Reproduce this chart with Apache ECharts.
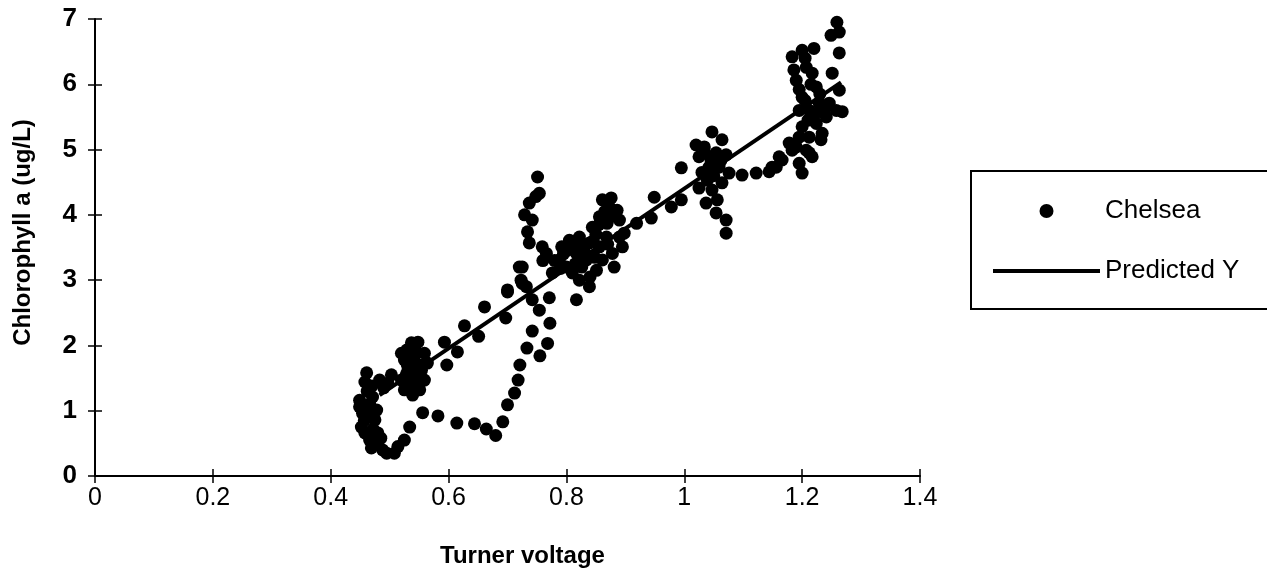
<!DOCTYPE html>
<html>
<head>
<meta charset="utf-8">
<script src="https://cdn.jsdelivr.net/npm/echarts@6/dist/echarts.min.js"></script>
<style>
html,body{margin:0;padding:0;background:#fff;}
#chart{width:1267px;height:577px;}
</style>
</head>
<body>
<div id="chart"></div>
<script>
// Observed points: [Turner voltage, Chlorophyll a (ug/L)]
const chelsea = [
  [0.461,1.58],[0.458,1.44],[0.483,1.47],[0.503,1.55],[0.449,1.06],[0.449,1.16],[0.454,0.96],[0.452,0.75],
  [0.458,0.66],[0.466,0.55],[0.469,0.43],[0.475,0.86],[0.478,1.01],[0.471,1.21],[0.48,0.66],[0.48,0.51],
  [0.495,0.35],[0.508,0.35],[0.514,0.45],[0.525,0.55],[0.534,0.75],[0.462,1.30],[0.466,1.10],[0.457,0.85],
  [0.472,0.72],[0.488,0.40],[0.472,0.50],[0.49,1.35],[0.497,1.42],[0.462,0.95],[0.47,1.38],[0.485,0.58],
  [0.556,0.97],[0.582,0.92],[0.614,0.81],[0.644,0.80],[0.664,0.72],[0.68,0.62],[0.692,0.83],[0.700,1.09],
  [0.712,1.27],[0.718,1.47],[0.721,1.70],[0.733,1.96],[0.742,2.22],[0.755,1.84],[0.768,2.03],[0.772,2.34],
  [0.771,2.73],[0.754,2.54],
  [0.537,2.04],[0.548,2.05],[0.529,1.93],[0.559,1.88],[0.525,1.78],[0.542,1.78],[0.564,1.73],[0.531,1.62],
  [0.554,1.62],[0.537,1.50],[0.559,1.47],[0.534,1.36],[0.551,1.32],[0.539,1.24],[0.525,1.32],[0.520,1.88],
  [0.520,1.47],[0.545,1.90],[0.548,1.55],[0.53,1.70],[0.543,1.42],[0.556,1.70],[0.528,1.55],[0.545,1.65],
  [0.535,1.85],[0.55,1.40],
  [0.593,2.05],[0.615,1.90],[0.597,1.70],[0.627,2.30],[0.651,2.14],[0.661,2.59],[0.697,2.42],[0.700,2.82],
  [0.751,4.58],[0.754,4.33],[0.737,4.18],[0.729,4.00],[0.742,3.92],[0.734,3.74],[0.737,3.57],[0.759,3.51],
  [0.725,3.20],[0.723,3.00],[0.700,2.85],[0.732,2.90],[0.742,2.70],[0.72,3.20],[0.725,2.95],[0.748,4.28],
  [0.766,3.41],[0.788,3.31],[0.776,3.11],[0.792,3.51],[0.805,3.61],[0.822,3.66],[0.817,3.41],[0.80,3.20],
  [0.822,3.00],[0.817,2.70],[0.839,2.90],[0.839,3.57],[0.844,3.81],[0.856,3.97],[0.861,4.23],[0.876,4.26],
  [0.886,4.07],[0.89,3.92],[0.869,3.87],[0.868,3.66],[0.856,3.51],[0.890,3.66],[0.895,3.51],[0.878,3.41],
  [0.881,3.20],[0.861,3.31],[0.834,3.31],[0.851,3.15],[0.81,3.11],[0.78,3.30],[0.795,3.40],[0.83,3.45],
  [0.85,3.70],[0.865,4.05],[0.845,3.60],[0.87,3.55],[0.826,3.20],[0.84,3.05],[0.80,3.45],[0.812,3.55],
  [0.825,3.55],[0.855,3.85],[0.872,3.95],[0.848,3.35],[0.815,3.25],[0.79,3.18],[0.76,3.30],[0.873,4.12],
  [0.898,3.72],[0.919,3.87],[0.944,3.95],[0.949,4.27],[0.978,4.12],[0.995,4.23],[0.995,4.72],
  [1.047,5.27],[1.064,5.15],[1.02,5.07],[1.034,5.04],[1.025,4.89],[1.054,4.95],[1.071,4.92],[1.042,4.73],
  [1.059,4.73],[1.076,4.64],[1.039,4.53],[1.025,4.41],[1.047,4.38],[1.064,4.49],[1.037,4.18],[1.056,4.23],
  [1.054,4.03],[1.071,3.92],[1.071,3.72],[1.045,4.85],[1.05,4.60],[1.03,4.65],[1.062,4.83],[1.035,4.95],
  [1.098,4.61],[1.122,4.64],[1.144,4.66],[1.156,4.73],[1.166,4.84],[1.178,5.10],[1.195,4.79],[1.20,4.64],
  [1.19,5.04],[1.212,4.95],[1.232,5.15],
  [1.259,6.95],[1.263,6.80],[1.249,6.75],[1.263,6.48],[1.251,6.17],[1.183,6.42],[1.20,6.52],[1.22,6.55],
  [1.186,6.22],[1.19,6.06],[1.207,6.26],[1.217,6.17],[1.224,5.96],[1.20,5.80],[1.195,5.60],[1.212,5.60],
  [1.229,5.71],[1.246,5.71],[1.258,5.60],[1.263,5.91],[1.241,5.50],[1.224,5.40],[1.20,5.35],[1.234,5.25],
  [1.212,5.19],[1.195,5.19],[1.183,4.99],[1.207,4.99],[1.217,4.89],[1.161,4.89],[1.149,4.73],[1.21,5.45],
  [1.23,5.85],[1.215,6.00],[1.268,5.58],[1.205,5.75],[1.222,5.55],[1.238,5.62],[1.205,6.40],[1.195,5.92]
];
// Regression line endpoints
const predictedY = [[0.483,1.24],[1.266,6.03]];
const seriesNames = ['Chelsea','Predicted Y'];
const xAxisTitle = 'Turner voltage';
const yAxisTitle = 'Chlorophyll a (ug/L)';

const font = '"Liberation Sans", Arial, sans-serif';
const chart = echarts.init(document.getElementById('chart'), null, {renderer:'canvas'});
const axisLineStyle = {color:'#000', width:2};
chart.setOption({
  animation:false,
  backgroundColor:'#fff',
  grid:{left:95, right:347, top:19, bottom:101, containLabel:false},
  xAxis:[{
    type:'value', min:0, max:1.4, interval:0.2, position:'bottom',
    name:xAxisTitle, nameLocation:'middle', nameGap:68,
    nameTextStyle:{fontFamily:font, fontSize:24, fontWeight:'bold', color:'#000', padding:[0,0,0,30]},
    axisLine:{show:true, onZero:false, lineStyle:axisLineStyle},
    axisTick:{show:true, inside:false, length:7, lineStyle:{color:'#000', width:1.5}},
    axisLabel:{fontFamily:font, fontSize:25, color:'#000', margin:10},
    splitLine:{show:false}
  },{
    type:'value', min:0, max:1.4, interval:0.2, position:'bottom',
    axisLine:{show:false, onZero:false},
    axisTick:{show:true, inside:true, length:7, lineStyle:{color:'#000', width:1.5}},
    axisLabel:{show:false}, splitLine:{show:false}
  }],
  yAxis:[{
    type:'value', min:0, max:7, interval:1, position:'left',
    name:yAxisTitle, nameLocation:'middle', nameGap:60,
    nameTextStyle:{fontFamily:font, fontSize:24, fontWeight:'bold', color:'#000', padding:[0,0,0,30]},
    axisLine:{show:true, onZero:false, lineStyle:axisLineStyle},
    axisTick:{show:true, inside:false, length:7, lineStyle:{color:'#000', width:1.5}},
    axisLabel:{fontFamily:font, fontSize:26, fontWeight:'bold', color:'#000', margin:18},
    splitLine:{show:false}
  },{
    type:'value', min:0, max:7, interval:1, position:'left',
    axisLine:{show:false, onZero:false},
    axisTick:{show:true, inside:true, length:7, lineStyle:{color:'#000', width:1.5}},
    axisLabel:{show:false}, splitLine:{show:false}
  }],
  legend:{
    orient:'vertical', left:988, top:191,
    itemWidth:107, itemHeight:14, itemGap:30,
    textStyle:{fontFamily:font, fontSize:26, color:'#000', lineHeight:30},
    data:[
      {name:seriesNames[0], icon:'circle'},
      {name:seriesNames[1], icon:'path://M0,0H107V4H0Z', itemStyle:{color:'#000'}}
    ],
    selectedMode:false
  },
  graphic:[{
    type:'rect', shape:{x:971, y:171, width:330, height:138},
    style:{fill:'none', stroke:'#000', lineWidth:2}, z:10
  }],
  series:[{
    name:seriesNames[0], type:'scatter', data:chelsea,
    symbol:'circle', symbolSize:13,
    itemStyle:{color:'#000', opacity:1}
  },{
    name:seriesNames[1], type:'line', data:predictedY,
    symbol:'none', showSymbol:false,
    lineStyle:{color:'#000', width:4},
    itemStyle:{color:'#000'}, z:3
  }]
});
</script>
</body>
</html>
